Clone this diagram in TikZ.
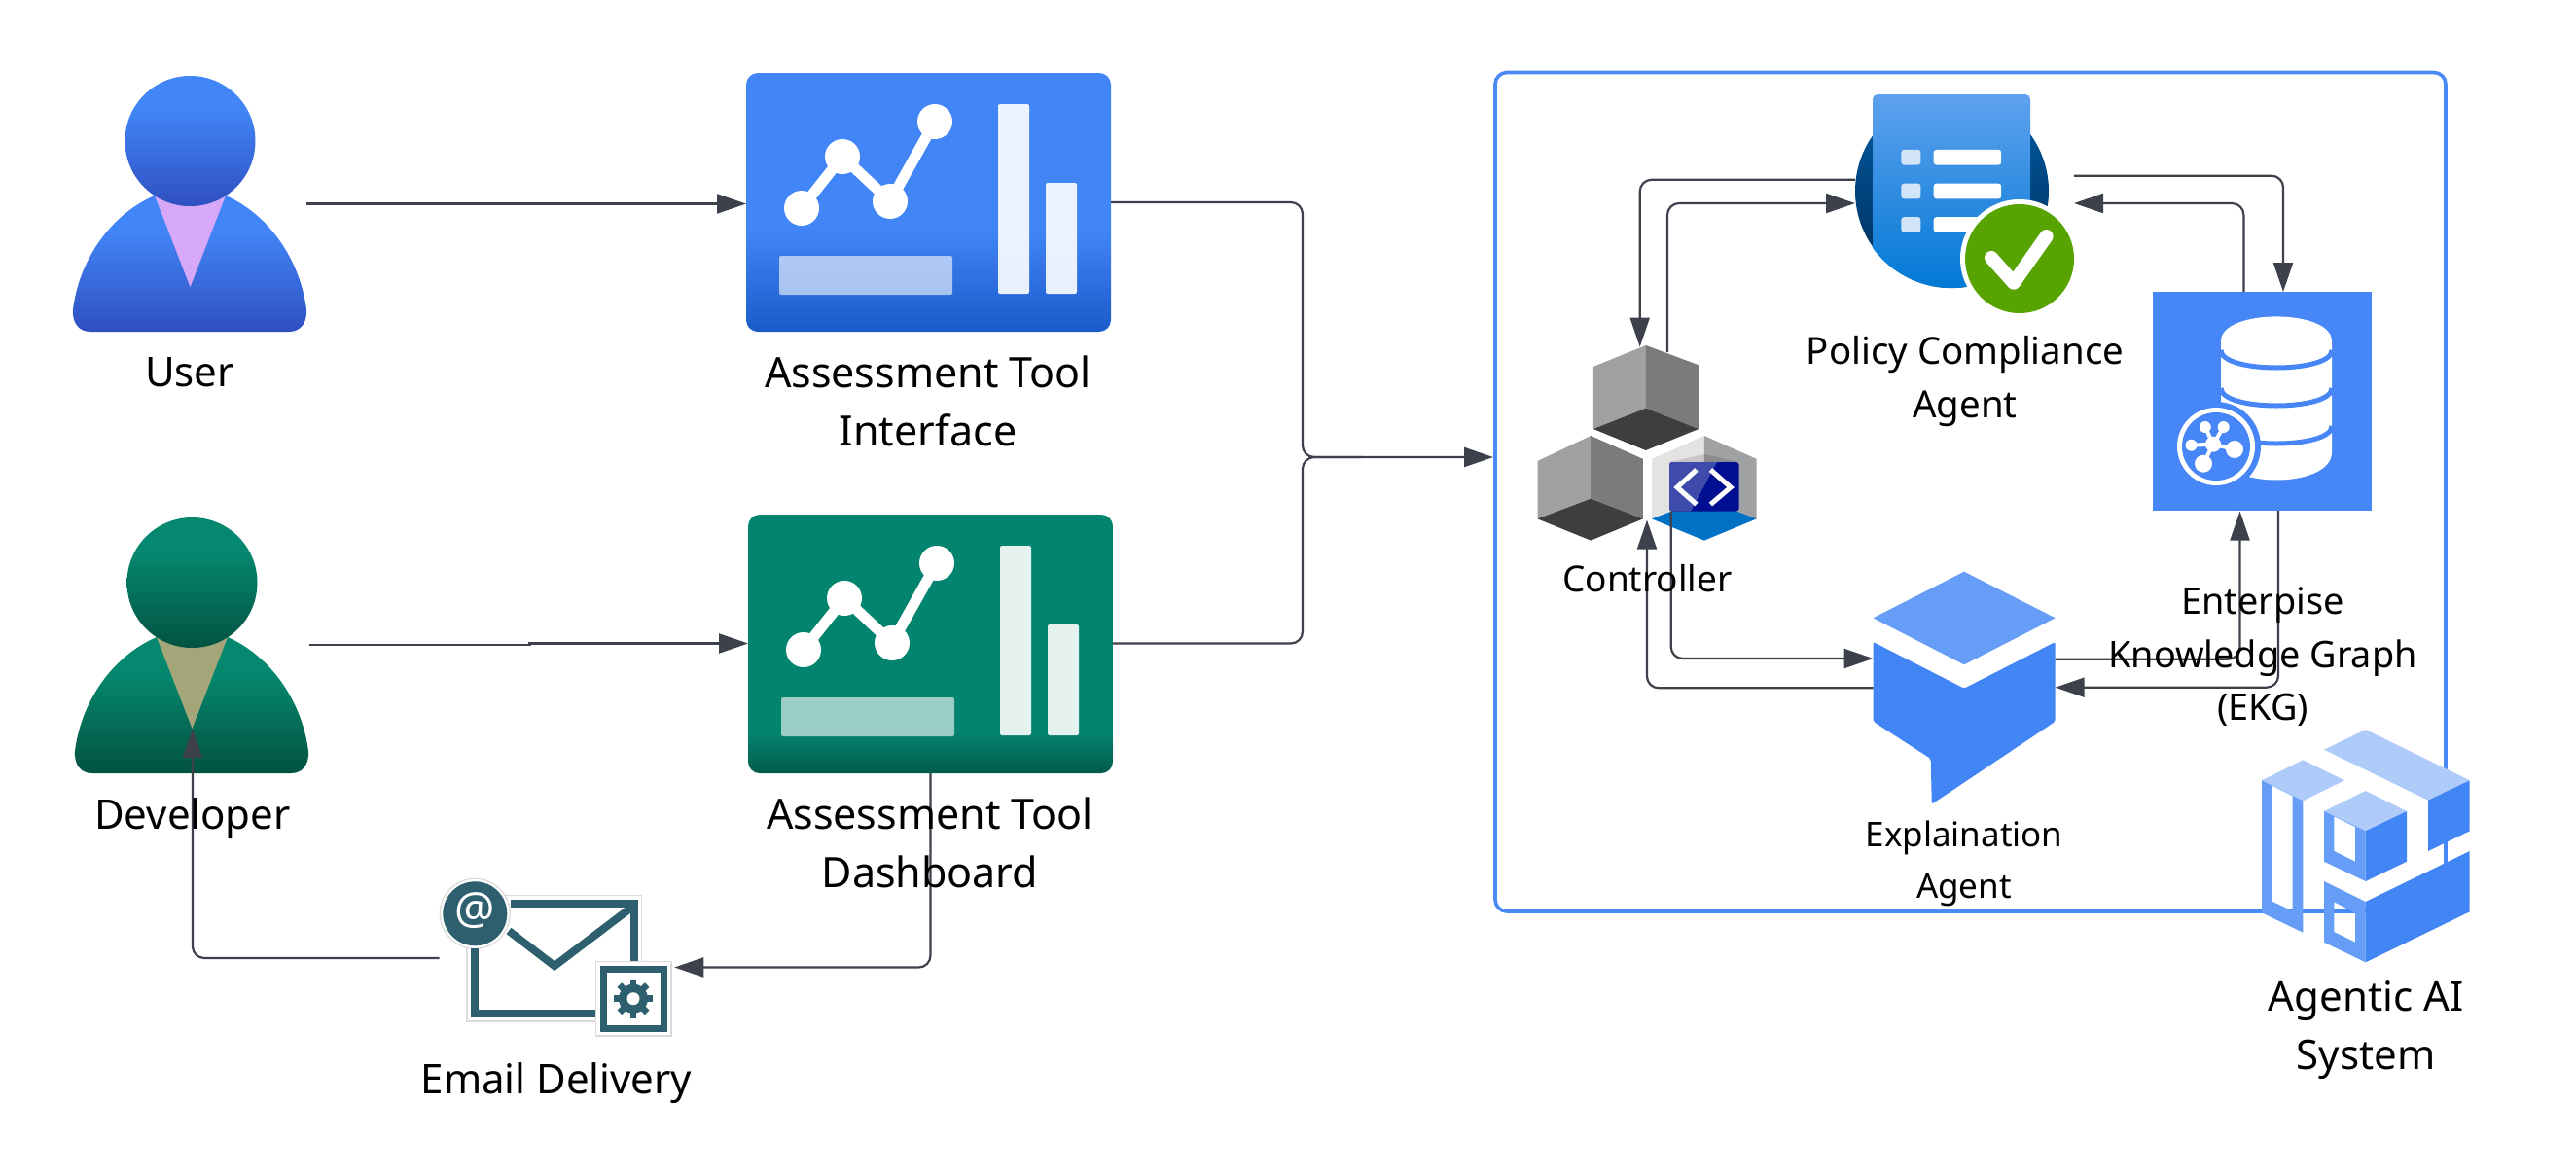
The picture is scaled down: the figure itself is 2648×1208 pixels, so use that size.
\documentclass[tikz,border=0pt]{standalone}
\usepackage{fontspec}
\setmainfont{Noto Sans}
\usetikzlibrary{arrows.meta,calc}
\definecolor{lnc}{HTML}{3C414C}
\definecolor{ctr}{HTML}{4A8AF8}
\definecolor{gb}{HTML}{4285F4}
\definecolor{gm}{HTML}{669DF6}
\definecolor{gl}{HTML}{AECBFA}
\definecolor{tealm}{HTML}{2D5F6E}
\definecolor{tA}{HTML}{4285F6}\definecolor{tB}{HTML}{1A5BC9}
\definecolor{tC}{HTML}{03846F}\definecolor{tD}{HTML}{035A4B}
\definecolor{pA}{HTML}{4285F6}\definecolor{pB}{HTML}{2F4FC0}
\definecolor{pC}{HTML}{05886F}\definecolor{pD}{HTML}{035241}
\definecolor{tieA}{HTML}{D8A8F8}\definecolor{tieB}{HTML}{A5A57A}
\definecolor{dA}{HTML}{5FA1EE}\definecolor{dB}{HTML}{0078D4}
\definecolor{cA}{HTML}{005BA1}\definecolor{cB}{HTML}{002D5C}
\definecolor{cuL}{HTML}{A0A1A3}\definecolor{cuR}{HTML}{7B7B7B}\definecolor{cuB}{HTML}{3E3E3E}
\definecolor{cuW}{HTML}{E3E3E3}\definecolor{cuU}{HTML}{0072C6}
\definecolor{codeA}{HTML}{3F4BAB}\definecolor{codeB}{HTML}{000F91}
\definecolor{okg}{HTML}{57A300}\definecolor{kgb}{HTML}{4686F6}
\definecolor{rowl}{HTML}{D2E4F8}
\pgfdeclareverticalshading{tileblue}{100bp}{color(0bp)=(tB);color(25bp)=(tB);color(45bp)=(tA);color(75bp)=(tA);color(100bp)=(tA)}
\pgfdeclareverticalshading{tilegreen}{100bp}{color(0bp)=(tD);color(25bp)=(tD);color(33bp)=(tC);color(75bp)=(tC);color(100bp)=(tC)}
\pgfdeclareverticalshading{persblue}{100bp}{color(0bp)=(pB);color(25bp)=(pB);color(62bp)=(pA);color(75bp)=(pA);color(100bp)=(pA)}
\pgfdeclareverticalshading{persgreen}{100bp}{color(0bp)=(pD);color(25bp)=(pD);color(62bp)=(pC);color(75bp)=(pC);color(100bp)=(pC)}
\pgfdeclareverticalshading{docblue}{100bp}{color(0bp)=(dB);color(25bp)=(dB);color(75bp)=(dA);color(100bp)=(dA)}
\pgfdeclareverticalshading{circdark}{100bp}{color(0bp)=(cB);color(25bp)=(cB);color(75bp)=(cA);color(100bp)=(cA)}
\tikzset{
  lnk/.style={draw=lnc,line width=2.2pt,rounded corners=12pt,-{Triangle[length=30pt,width=20pt]}},
  lnkplain/.style={draw=lnc,line width=2.2pt,rounded corners=12pt},
  iconbox/.style={inner sep=0pt,outer sep=0pt},
  labbig/.style={inner sep=0pt,anchor=base,font=\fontsize{42}{60}\selectfont},
  labtool/.style={inner sep=0pt,anchor=base,font=\fontsize{43}{60}\selectfont},
  labpol/.style={inner sep=0pt,anchor=base,font=\fontsize{38.4}{54.5}\selectfont},
  labkg/.style={inner sep=0pt,anchor=base,font=\fontsize{37.8}{54.5}\selectfont},
  labctl/.style={inner sep=0pt,anchor=base,font=\fontsize{37}{53}\selectfont},
  labsmall/.style={inner sep=0pt,anchor=base,font=\fontsize{35}{53}\selectfont},
  halo/.style={draw=black!14,line width=1.2pt,fill=white}
}
\newcommand{\lines}[1]{\begin{tabular}[t]{@{}c@{}}#1\end{tabular}}
\newcommand{\personicon}[4]{%
  \begin{scope}[shift={(#1,#2)}]
    \shade[shading=#3] (159,201) .. controls (115,220) and (82,265) .. (75,318)
      .. controls (74,332) and (81,341) .. (93,341) -- (297,341)
      .. controls (309,341) and (316,332) .. (315,318)
      .. controls (308,265) and (275,220) .. (232,201) -- cycle;
    \fill[#4] (159,201) -- (232,201) -- (195.5,295) -- cycle;
    \shade[shading=#3] (195.5,145) circle[radius=67pt];
  \end{scope}}
\newcommand{\tileicon}[3]{%
  \begin{scope}[shift={(#1,#2)}]
    \shade[shading=#3,rounded corners=12pt] (767,75) rectangle (1142,341);
    \fill[white,opacity=.6,rounded corners=2pt] (801,263) rectangle (979,303);
    \fill[white,opacity=.9,rounded corners=2pt] (1026,107) rectangle (1058,302);
    \fill[white,opacity=.9,rounded corners=2pt] (1075,188) rectangle (1107,302);
    \draw[white,line width=11pt,line join=round] (824,214) -- (866,161) -- (915,207) -- (961,125);
    \foreach \p in {(824,214),(866,161),(915,207),(961,125)} \fill[white] \p circle[radius=18pt];
  \end{scope}}
\begin{document}
\begin{tikzpicture}[x=1pt,y=-1pt]
\useasboundingbox (0,0) rectangle (2648,1208);
% invisible extents of the icons
\node[iconbox,minimum width=240pt,minimum height=263pt] (user) at (195,209.5) {};
\node[iconbox,minimum width=240pt,minimum height=264pt] (dev) at (197.5,663) {};
\node[iconbox,minimum width=375pt,minimum height=266pt] (tileA) at (954.5,208) {};
\node[iconbox,minimum width=375pt,minimum height=267pt] (tileB) at (956.5,661.5) {};
\node[iconbox,minimum width=241pt,minimum height=130pt] (email) at (572.5,985) {};
\node[iconbox,minimum width=225pt,minimum height=225pt] (kg) at (2325,412.5) {};
\node[iconbox,minimum width=187pt,minimum height=239pt] (expl) at (2019,707.2) {};
\node[iconbox,minimum width=225pt,minimum height=200pt] (ctrl) at (1693,455) {};
\node[iconbox,minimum width=225pt,minimum height=225pt] (pca) at (2019.5,209.5) {};
% container
\node[draw=ctr,line width=3.6pt,rounded corners=12pt,inner sep=0pt,minimum width=977pt,minimum height=862.5pt] (agentic) at (2025.5,505.75) {};
% ports
\coordinate (pcaW1) at (1907,184.8);
\coordinate (pcaW2) at (1907,209);
\coordinate (pcaE1) at (2132,180.7);
\coordinate (pcaE2) at (2132,209);
\coordinate (kgN1) at (2306.4,300);
\coordinate (kgN2) at (2347,300);
\coordinate (kgS1) at (2302.5,525.5);
\coordinate (kgS2) at (2342,525);
\coordinate (ctN1) at (1685.7,356.6);
\coordinate (ctN2) at (1714,362);
\coordinate (ctS1) at (1693,534.6);
\coordinate (ctS2) at (1717.7,525.7);
\coordinate (exW1) at (1925.5,677);
\coordinate (exW2) at (1925.5,707.3);
\coordinate (exE1) at (2112.7,677.7);
\coordinate (exE2) at (2112.7,706.7);
\coordinate (sysIn) at (1535,470);
\coordinate (emIn) at (693.3,994.5);
\coordinate (emOut) at (451.7,985);
\coordinate (devIn) at (198,749);

% persons and tiles
\personicon{0}{0}{persblue}{tieA}
\personicon{2}{454}{persgreen}{tieB}
\tileicon{0}{0}{tileblue}
\tileicon{2}{454}{tilegreen}

% email icon
\draw[halo] (480,920.7) rectangle (659.3,1050);
\draw[halo] (488.3,939.3) circle[radius=36pt];
\draw[halo] (612.7,988.3) rectangle (690,1065);
\draw[tealm,line width=8pt,line join=miter] (488.3,975) -- (488.3,1041.7) -- (612,1041.7);
\draw[tealm,line width=8pt,line join=miter] (525,929) -- (651.7,929) -- (651.7,988);
\draw[tealm,line width=8pt,line join=miter] (523,957) -- (570,993) -- (651.7,931);
\fill[tealm] (488.3,939.3) circle[radius=33pt];
\node[inner sep=0pt,text=white,font=\bfseries\fontsize{46}{46}\selectfont] (emat) at (488.3,936) {@};
\draw[tealm,line width=7pt,fill=white] (620,996.7) rectangle (682.7,1057.7);
\foreach \a in {0,45,...,315} \draw[tealm,line width=6.5pt] (651,1026.7) -- ++(\a:20pt);
\fill[tealm] (651,1026.7) circle[radius=15pt];
\fill[white] (651,1026.7) circle[radius=6.5pt];

% controller cubes
\fill[cuL] (1691.8,355) -- (1637.9,376.9) -- (1637.9,441) -- (1691.8,419.7) -- cycle;
\fill[cuR] (1691.8,355) -- (1746.2,375.3) -- (1746.2,441) -- (1691.8,419.7) -- cycle;
\fill[cuB] (1637.9,441) -- (1691.8,419.7) -- (1746.2,441) -- (1691.8,463) -- cycle;
\fill[cuL] (1635.2,448) -- (1580.5,474) -- (1580.5,533.4) -- (1635.2,512.7) -- cycle;
\fill[cuR] (1635.2,448) -- (1688.8,471.8) -- (1688.8,533.4) -- (1635.2,512.7) -- cycle;
\fill[cuB] (1580.5,533.4) -- (1635.2,512.7) -- (1688.8,533.4) -- (1635.2,555.6) -- cycle;
\fill[cuW] (1751.9,448) -- (1698,471.8) -- (1698,533.4) -- (1751.9,512.7) -- cycle;
\fill[cuL] (1751.9,448) -- (1805.5,471.8) -- (1805.5,533.4) -- (1751.9,512.7) -- cycle;
\fill[cuU] (1698,533.4) -- (1751.9,512.7) -- (1805.5,533.4) -- (1751.9,555.6) -- cycle;
\fill[black!22] (1716,475) -- (1751.9,467) -- (1751.9,475) -- cycle;
\fill[black!45] (1787.5,475) -- (1751.9,467) -- (1751.9,475) -- cycle;
\fill[codeB,rounded corners=3pt] (1716,475) rectangle (1787.5,525.7);
\fill[codeA] (1719,475) -- (1765,475) -- (1738,525.7) -- (1719,525.7) arc[start angle=270,end angle=180,radius=3pt] -- (1716,478) arc[start angle=180,end angle=90,radius=3pt] -- cycle;
\draw[white,line width=5pt] (1743.9,483) -- (1724,501) -- (1743.9,518.5);
\draw[white,line width=5pt] (1758.4,483) -- (1779,501) -- (1758.4,518.5);

% policy compliance icon
\shade[shading=circdark] (2006.5,196.5) circle[radius=99.5pt];
\shade[shading=docblue] (1925,254) -- (1925,102) arc[start angle=180,end angle=90,radius=5pt] -- (2082,97) arc[start angle=90,end angle=0,radius=5pt] -- (2087,254) arc[start angle=324.8,end angle=215.2,radius=99.5pt] -- cycle;
\foreach \yy in {153.8,188.6,223}{
  \fill[rowl,rounded corners=3pt] (1954.4,\yy) rectangle ++(20,15.8);
  \fill[white,rounded corners=3pt] (1987.7,\yy) rectangle ++(69.5,15.8);
}
\fill[white] (2076,266) circle[radius=61pt];
\fill[okg] (2076,266) circle[radius=56pt];
\draw[white,line width=14pt,line cap=round,line join=round] (2047,265) -- (2070,290.7) -- (2103.6,243);

% knowledge graph icon
\fill[kgb] (2212.5,300) rectangle (2437.5,525);
\fill[white] (2283,350.7) -- (2283,465) .. controls (2283,503) and (2397,503) .. (2397,465) -- (2397,350.7) .. controls (2397,317) and (2283,317) .. (2283,350.7) -- cycle;
\draw[kgb,line width=5pt] (2283,360) .. controls (2283,384) and (2397,384) .. (2397,360);
\draw[kgb,line width=5pt] (2283,399) .. controls (2283,423) and (2397,423) .. (2397,399);
\draw[kgb,line width=5pt] (2283,438) .. controls (2283,462) and (2397,462) .. (2397,438);
\fill[kgb] (2278,459) circle[radius=46pt];
\fill[white] (2278,459) circle[radius=40pt];
\fill[kgb] (2278,459) circle[radius=35pt];
\foreach \px/\py/\pr in {2266.8/439/6,2285.7/439/6,2252.5/457.7/6,2297/462/9,2265/476.7/9}{
  \draw[white,line width=4pt] (2275,456.7) -- (\px,\py);
  \fill[white] (\px,\py) circle[radius=\pr pt];
}
\fill[white] (2275,456.7) circle[radius=8pt];

% explanation agent icon
\fill[gm] (2019,587.7) -- (2112.7,635.3) -- (2019,683.3) -- (1925.5,635.3) -- cycle;
\fill[gb,rounded corners=2pt] (1925.5,660) -- (2019,707.7) -- (2112.7,660) -- (2112.7,741.7) -- (1985.8,826.7) -- (1984.7,780) -- (1925.5,741.7) -- cycle;

% agentic AI icon
\fill[gl] (2431.7,750) -- (2538.7,802.3) -- (2496,822.7) -- (2389,770.7) -- cycle;
\fill[gb] (2538.7,802.3) -- (2538.7,854.3) -- (2496,875) -- (2496,822.7) -- cycle;
\fill[gl] (2367.3,781.3) -- (2410,802.3) -- (2367.3,823.3) -- (2325,802.3) -- cycle;
\fill[gm,even odd rule] (2325,802.3) -- (2367.3,823.3) -- (2367.3,958.7) -- (2325,938.3) -- cycle (2335.7,807.7) -- (2356.7,818.3) -- (2356.7,936.7) -- (2335.7,926.7) -- cycle;
\fill[gl] (2431.7,813) -- (2474,834) -- (2431.7,854.3) -- (2389,834) -- cycle;
\fill[gm,even odd rule] (2389,834) -- (2431.7,854.3) -- (2431.7,906) -- (2389,885.7) -- cycle (2399.3,839.3) -- (2421,850) -- (2421,885.7) -- (2399.3,875) -- cycle;
\fill[gb] (2431.7,854.3) -- (2474,834) -- (2474,885.7) -- (2431.7,906) -- cycle;
\fill[gm,even odd rule] (2389,906) -- (2431.7,927) -- (2431.7,989.3) -- (2389,968.7) -- cycle (2399.3,927.3) -- (2421,938.3) -- (2421,968.7) -- (2399.3,958) -- cycle;
\fill[gb] (2431.7,927) -- (2538.7,875) -- (2538.7,937.3) -- (2431.7,989.3) -- cycle;

% connectors
\draw[lnk] (user.east) -- (user.east -| tileA.west);
\draw[lnk,sharp corners] (dev.east) -- ++(227,0) |- (tileB.west);
\draw[lnkplain] (tileA.east) -| (1339,470) -- (1400,470);
\draw[lnk] (tileB.east) -| (1339,470) -- (sysIn);
\draw[lnk] (tileB.south) |- (emIn);
\draw[lnk] (emOut) -| (devIn);
\draw[lnk] (pcaW1) -| (ctN1);
\draw[lnk] (ctN2) |- (pcaW2);
\draw[lnk] (pcaE1) -| (kgN2);
\draw[lnk] (kgN1) |- (pcaE2);
\draw[lnk] (exW2) -| (ctS1);
\draw[lnk] (ctS2) |- (exW1);
\draw[lnk] (exE1) -| (kgS1);
\draw[lnk] (kgS2) |- (exE2);

% labels
\node[labbig] (lUser) at (195,397) {User};
\node[labbig] (lDev) at (198,852) {Developer};
\node[labtool] (lTA) at (954,398) {\lines{Assessment Tool\\Interface}};
\node[labtool] (lTB) at (956,852) {\lines{Assessment Tool\\Dashboard}};
\node[labbig] (lEm) at (572,1124.5) {Email Delivery};
\node[labbig] (lAI) at (2432,1039) {\lines{Agentic AI\\System}};
\node[labpol] (lPC) at (2020,374.6) {\lines{Policy Compliance\\Agent}};
\node[labctl] (lCt) at (1693.4,608) {Controller};
\node[labkg] (lKG) at (2326,631.7) {\lines{Enterpise\\Knowledge Graph\\(EKG)}};
\node[labsmall] (lEx) at (2019,870) {\lines{Explaination\\Agent}};
\end{tikzpicture}
\end{document}
